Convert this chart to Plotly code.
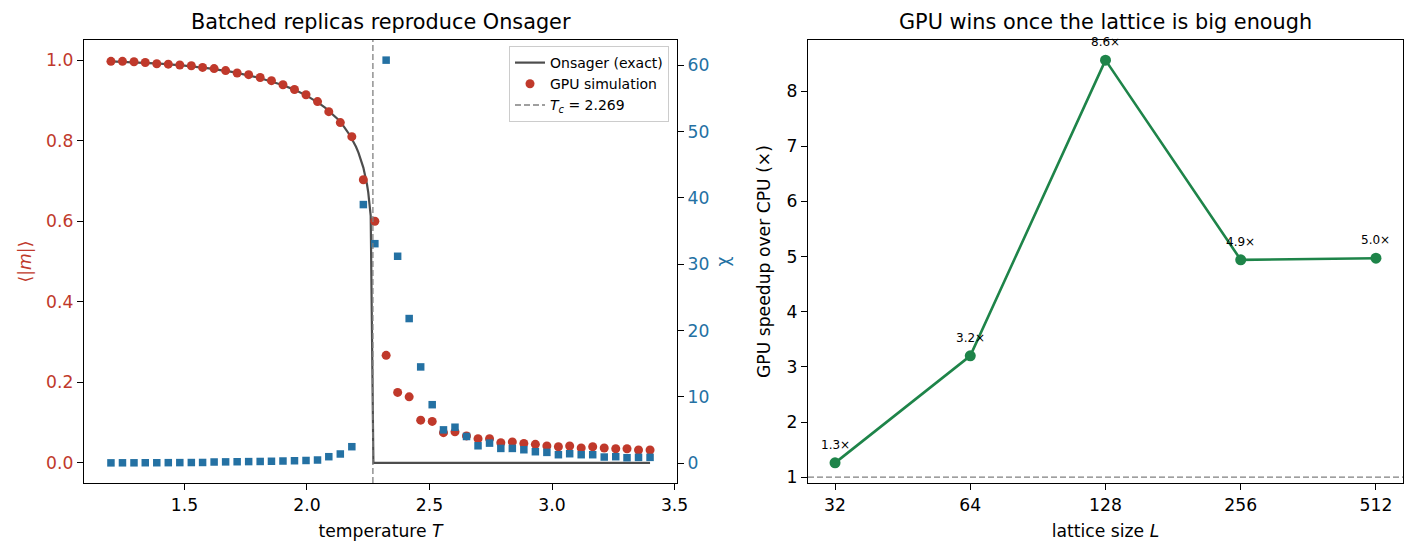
import numpy as np
import plotly.graph_objects as go

# ---------------- data ----------------
# Onsager exact curve (sampled)
T_onsager = [1.2, 1.3, 1.4, 1.5, 1.6, 1.7, 1.8, 1.9, 1.95, 2.0, 2.025, 2.05, 2.075, 2.1,
             2.125, 2.15, 2.175, 2.2, 2.21, 2.23, 2.24, 2.245, 2.25, 2.255, 2.26, 2.271, 3.4]
m_onsager = [0.997, 0.9948, 0.9914, 0.9865, 0.9796, 0.9701, 0.9569, 0.9383, 0.9262, 0.9113,
             0.9026, 0.8928, 0.8816, 0.8688, 0.8537, 0.8357, 0.8136, 0.7848, 0.7704, 0.7332,
             0.7074, 0.6913, 0.6719, 0.6474, 0.6135, 0.0, 0.0]

# GPU simulation temperatures
T_sim = [1.200, 1.247, 1.294, 1.340, 1.387, 1.434, 1.481, 1.528, 1.574, 1.621, 1.668, 1.715,
         1.762, 1.809, 1.855, 1.902, 1.949, 1.996, 2.043, 2.089, 2.136, 2.183, 2.230, 2.277,
         2.323, 2.370, 2.417, 2.464, 2.511, 2.557, 2.604, 2.651, 2.698, 2.745, 2.791, 2.838,
         2.885, 2.932, 2.979, 3.026, 3.072, 3.119, 3.166, 3.213, 3.260, 3.306, 3.353, 3.400]
m_sim = [0.997, 0.997, 0.996, 0.994, 0.991, 0.990, 0.988, 0.986, 0.982, 0.979, 0.974, 0.968,
         0.964, 0.957, 0.949, 0.939, 0.927, 0.914, 0.897, 0.872, 0.845, 0.810, 0.703, 0.600,
         0.267, 0.175, 0.164, 0.106, 0.103, 0.075, 0.077, 0.067, 0.060, 0.060, 0.050, 0.052,
         0.048, 0.046, 0.042, 0.040, 0.042, 0.037, 0.040, 0.037, 0.035, 0.035, 0.032, 0.032]
chi_sim = [0.02, 0.03, 0.03, 0.04, 0.04, 0.05, 0.06, 0.07, 0.08, 0.15, 0.17, 0.19,
           0.21, 0.23, 0.26, 0.30, 0.34, 0.38, 0.45, 0.95, 1.36, 2.46, 39.0, 33.1,
           60.8, 31.2, 21.8, 14.5, 8.8, 5.0, 5.4, 4.0, 2.6, 3.0, 2.2, 2.2,
           2.0, 1.7, 1.6, 1.25, 1.4, 1.25, 1.25, 0.9, 0.95, 0.8, 0.85, 0.85]
Tc = 2.269

# GPU speedup vs lattice size
L_sizes = [32, 64, 128, 256, 512]
speedup = [1.26, 3.20, 8.56, 4.94, 4.97]
baseline = 1.0

left_title = "Batched replicas reproduce Onsager"
right_title = "GPU wins once the lattice is big enough"

# ---------------- style ----------------
RED = "#c0392b"
BLUE = "#2471a3"
GREEN = "#1e8449"
FONT = "DejaVu Sans"
TICK_FS = 17.2

def pad_range(vals, frac=0.05):
    lo, hi = min(vals), max(vals)
    span = hi - lo
    return [lo - frac * span, hi + frac * span]

fig = go.Figure()

fig.add_trace(go.Scatter(x=T_onsager, y=m_onsager, mode="lines", name="Onsager (exact)",
                         line=dict(color="#4d4d4d", width=2.2), xaxis="x", yaxis="y",
                         legendrank=1))
fig.add_trace(go.Scatter(x=T_sim, y=m_sim, mode="markers", name="GPU simulation",
                         marker=dict(color=RED, size=9), xaxis="x", yaxis="y",
                         legendrank=2))
fig.add_trace(go.Scatter(x=T_sim, y=chi_sim, mode="markers", name="χ",
                         marker=dict(color=BLUE, size=7.5, symbol="square"),
                         xaxis="x", yaxis="y2", showlegend=False))
fig.add_trace(go.Scatter(x=L_sizes, y=speedup, mode="lines+markers",
                         line=dict(color=GREEN, width=2.6),
                         marker=dict(color=GREEN, size=11),
                         xaxis="x2", yaxis="y3", showlegend=False))

# Tc vertical line (in legend)
fig.add_shape(type="line", x0=Tc, x1=Tc, xref="x", y0=0, y1=1, yref="y domain",
              line=dict(color="#808080", width=1.3, dash="6px,3px"),
              showlegend=True, name="<i>T<sub>c</sub></i> = 2.269", legendrank=3)
# baseline horizontal line on right chart
fig.add_shape(type="line", x0=0, x1=1, xref="x2 domain", y0=baseline, y1=baseline, yref="y3",
              line=dict(color="#808080", width=1.3, dash="6px,3px"))

# point labels
for L, s in zip(L_sizes, speedup):
    fig.add_annotation(x=np.log10(L), y=s, xref="x2", yref="y3", text=f"{s:.1f}×",
                       showarrow=False, xanchor="center", yanchor="bottom", yshift=9,
                       font=dict(size=12, color="black", family=FONT))

ML, MR, MT, MB = 84, 12, 40, 72
W, H = 1415, 555
pw = W - ML - MR
dom_left = [0, 593 / pw]
dom_right = [(808 - ML) / pw, 1]

for dom, txt in [(dom_left, left_title), (dom_right, right_title)]:
    fig.add_annotation(x=(dom[0] + dom[1]) / 2, y=1, xref="paper", yref="paper",
                       text=txt, showarrow=False, xanchor="center", yanchor="bottom", yshift=4,
                       font=dict(size=20.8, color="black", family=FONT))

axis_common = dict(showgrid=False, zeroline=False, showline=True, linecolor="black",
                   linewidth=1.3, ticks="outside", ticklen=6, tickwidth=1.3,
                   tickcolor="black", automargin=False,
                   tickfont=dict(size=TICK_FS, color="black", family=FONT))

xr = pad_range(T_sim)
yr = [-0.05, 1.05]
y2r = pad_range(chi_sim)
y3r = pad_range(speedup)
lx = np.log10(L_sizes)
lspan = lx[-1] - lx[0]
x2r = [lx[0] - 0.05 * lspan, lx[-1] + 0.05 * lspan]

fig.update_layout(
    width=W, height=H,
    margin=dict(l=ML, r=MR, t=MT, b=MB),
    paper_bgcolor="white", plot_bgcolor="white",
    font=dict(family=FONT, color="black"),
    showlegend=True,
    legend=dict(x=(669 - ML) / pw, y=1 - (46 - MT) / (H - MT - MB), xanchor="right",
                yanchor="top", bgcolor="rgba(255,255,255,0.8)", bordercolor="#cccccc",
                borderwidth=1, font=dict(size=14, family=FONT), tracegroupgap=0),
    xaxis=dict(axis_common, domain=dom_left, range=xr, anchor="y", mirror=True,
               tickvals=[1.5, 2.0, 2.5, 3.0, 3.5], ticktext=["1.5", "2.0", "2.5", "3.0", "3.5"],
               title=dict(text="temperature <i>T</i>", standoff=11,
                          font=dict(size=TICK_FS, family=FONT))),
    yaxis=dict(axis_common, domain=[0, 1], range=yr, anchor="x",
               tickvals=[0, 0.2, 0.4, 0.6, 0.8, 1.0],
               ticktext=["0.0", "0.2", "0.4", "0.6", "0.8", "1.0"],
               tickfont=dict(size=TICK_FS, color=RED, family=FONT),
               title=dict(text="⟨|<i>m</i>|⟩", standoff=10,
                          font=dict(size=TICK_FS, color=RED, family=FONT))),
    yaxis2=dict(axis_common, overlaying="y", side="right", anchor="x", range=y2r,
                tickvals=[0, 10, 20, 30, 40, 50, 60],
                tickfont=dict(size=TICK_FS, color=BLUE, family=FONT),
                title=dict(text="χ", standoff=8,
                           font=dict(size=TICK_FS, color=BLUE, family=FONT))),
    xaxis2=dict(axis_common, domain=dom_right, type="log", range=x2r, anchor="y3", mirror=True,
                tickvals=L_sizes, ticktext=[str(v) for v in L_sizes],
                title=dict(text="lattice size <i>L</i>", standoff=11,
                           font=dict(size=TICK_FS, family=FONT))),
    yaxis3=dict(axis_common, domain=[0, 1], range=y3r, anchor="x2", mirror=True,
                tickvals=[1, 2, 3, 4, 5, 6, 7, 8],
                title=dict(text="GPU speedup over CPU (×)", standoff=11,
                           font=dict(size=TICK_FS, family=FONT))),
)

fig.write_html("out.html")
